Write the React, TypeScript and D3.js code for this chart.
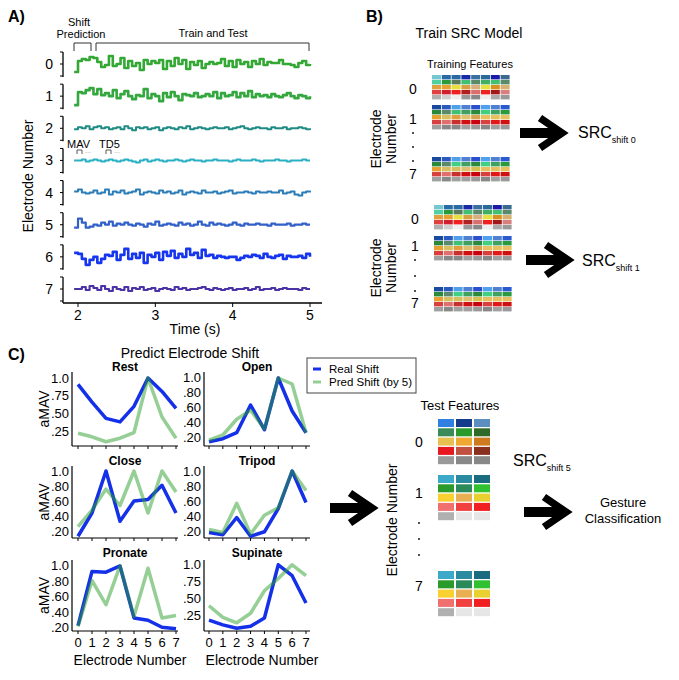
import React from "react";
import * as d3 from "d3";

const FONT = "'Liberation Sans', Arial, Helvetica, sans-serif";

// ---------- Panel A data ----------
const electrodes = [0, 1, 2, 3, 4, 5, 6, 7];
const timeTicks = [2, 3, 4, 5];
const tStart = 1.95;
const tStep = 0.05;
const emg0 = [-8, 3, 5, 4, 7, 6, 2, -3, -1, 8, -2, 0, 6, -4, 3, -2, 1, -6, 4, 0, 3, 1, 4, -5, 3, -2, 6, 0, 4, -5, 2, -1, 3, -4, 0, 2, 0, 1, 5, -2, 3, -3, 4, 0, 2, -3, 3, 0, 5, -1, 2, 1, 1, 4, 0, 0, -1, -3, 1, 3, -1, 0];
const emg1 = [-9, 4, 3, 6, 8, 2, 7, 1, 3, 0, 6, -2, 2, 5, 0, -3, 1, 0, 7, -2, 2, 0, -5, 3, -1, 4, 0, -4, 2, 1, 0, 3, -1, 0, 2, 0, 4, -2, 3, 0, 1, 4, -1, 3, 0, 5, -1, 2, 0, 1, -1, 2, 0, -1, 1, 3, 0, -2, 1, 0, -2, 0];
const emg2 = [-1, 1, 0, 2, -1, 1, 2, 0, 1, -1, 0, 1, -1, 2, 0, -2, 1, 0, 1, -1, 0, 1, -2, 0, 1, 0, -1, 1, 0, 2, -1, 0, 1, 0, -1, 0, 1, 0, 0, 1, -1, 0, 1, 2, 0, -1, 0, 1, 0, 0, -1, 1, 0, 0, 1, -1, 0, 0, 1, 0, -1, 0];
const emg3 = [0, 0, 1, -1, 0, 1, 0, -1, 0, 1, 0, -1, 0, 1, 0, -1, -2, 0, 1, -1, 0, 1, 0, -1, 0, 0, 1, 0, -1, 0, 1, 0, 0, -1, 0, 0, 1, 0, 0, 0, -1, 0, 1, 0, 0, 0, 1, 0, -1, 0, 0, 0, 1, 0, 0, -1, 0, 0, 0, 1, 0, 0];
const emg4 = [1, 3, 0, -1, 0, 2, -1, 0, 3, -2, 1, 0, 2, -1, 0, 1, 3, -2, 0, 1, 0, -1, 2, 0, 1, -1, 0, 2, -2, 0, 1, 0, -1, 2, 0, 0, 1, -1, 0, 1, 2, -1, 0, 0, 1, 0, -1, 1, 0, 0, 1, 0, 0, 2, -1, 0, 1, -2, -3, 0, 1, 0];
const emg5 = [-3, 6, 2, -3, -2, 0, -1, 2, 0, 3, -1, 1, 0, 2, 0, -1, 1, 0, -2, 1, 0, 3, -1, 0, 1, 0, -1, 2, 0, 1, -1, 0, 3, 0, -1, 2, 0, 1, 0, -1, 0, 2, 0, -1, 1, 0, 0, 1, 0, 0, -1, 1, 0, 0, 0, 1, -1, 0, 0, 1, 0, 0];
const emg6 = [4, 3, -2, -8, -3, 0, -6, -2, 2, 1, 5, -3, 2, 8, -2, 3, -1, 4, -6, 2, 0, 4, -3, 5, 1, 6, -1, 3, 0, 8, 2, 4, -1, 7, 1, 2, -1, 1, 0, -1, 0, 0, -3, -1, 1, 0, 2, 1, -1, 3, 0, -1, 1, 2, -2, 1, 0, 0, 1, -1, 3, 0];
const emg7 = [0, 0, 2, -1, 3, 1, -1, 3, 0, -2, 2, 0, -1, 2, -2, 1, 0, 2, -1, 0, 1, -2, 0, 1, 0, -1, 2, 0, 1, -1, 0, 0, 1, 2, 0, -1, 1, 0, -1, 0, 1, -1, 0, 0, 1, -1, 0, 2, -1, 0, 0, 1, -1, 0, 1, 0, 0, 0, -1, 1, 0, 0];
const emgSeries = [emg0, emg1, emg2, emg3, emg4, emg5, emg6, emg7];
const emgColors = ["#34a834", "#34a83e", "#1e8c84", "#2ab0c4", "#2a7db8", "#3060c8", "#1535ee", "#4b32a6"];
const emgWidths = [2.6, 2.6, 2, 2, 2, 2.2, 2.6, 2.2];

// ---------- Panel C data ----------
const electrodeTicks = [0, 1, 2, 3, 4, 5, 6, 7];
const realRest = [0.91, 0.66, 0.43, 0.38, 0.6, 1.0, 0.81, 0.57];
const predRest = [0.22, 0.17, 0.1, 0.15, 0.23, 1.0, 0.45, 0.15];
const realOpen = [0.15, 0.19, 0.27, 0.64, 0.31, 1.0, 0.56, 0.27];
const predOpen = [0.17, 0.24, 0.45, 0.57, 0.32, 1.0, 0.92, 0.27];
const realClose = [0.13, 0.44, 1.0, 0.33, 0.6, 0.62, 0.81, 0.44];
const predClose = [0.26, 0.48, 0.76, 0.54, 1.0, 0.44, 1.0, 0.72];
const realTripod = [0.18, 0.15, 0.38, 0.13, 0.19, 0.5, 1.0, 0.58];
const predTripod = [0.22, 0.18, 0.57, 0.16, 0.41, 0.51, 1.0, 0.74];
const realPronate = [0.23, 0.93, 0.92, 1.0, 0.33, 0.3, 0.21, 0.19];
const predPronate = [0.22, 0.81, 0.5, 1.0, 0.35, 0.97, 0.33, 0.36];
const realSupinate = [0.19, 0.12, 0.07, 0.1, 0.22, 1.0, 0.84, 0.44];
const predSupinate = [0.4, 0.23, 0.15, 0.29, 0.62, 0.8, 1.0, 0.84];
const ticksQuarter = [0.25, 0.5, 0.75, 1.0];
const labelsQuarter = [".25", ".50", ".75", "1.0"];
const ticksFifth = [0.2, 0.4, 0.6, 0.8, 1.0];
const labelsFifth = [".20", ".40", ".60", ".80", "1.0"];

// ---------- Feature colour blocks ----------
const trainBlock0 = [
  ["#74c8d0", "#2a6aa6", "#2a6aa0", "#1a2aa6", "#3a70a0", "#2a6a9a", "#1a1aa6", "#3a6a90"],
  ["#50d0a0", "#2a9a3a", "#5a7a5a", "#40c070", "#5a8a6a", "#40b060", "#40c070", "#5a8a6a"],
  ["#e0a040", "#e8a030", "#e8e040", "#d8a040", "#d8b080", "#e8e040", "#d89020", "#d8b070"],
  ["#e04040", "#d02030", "#f02020", "#b02020", "#d87070", "#f02020", "#a01818", "#d88080"],
  ["#b0b0b0", "#d0d0d0", "#eeeeee", "#999999", "#888888", "#eeeeee", "#aaaaaa", "#999999"],
];
const trainBlock1 = [
  ["#1a4aa0", "#2a5ac0", "#50a0e8", "#5080d0", "#2a50d0", "#50a0f0", "#5080d0", "#2a5ad0"],
  ["#2a8a3a", "#5a8a6a", "#40c070", "#40a060", "#2a8a3a", "#40d080", "#40a060", "#2a9a3a"],
  ["#e8a030", "#d8c060", "#e0a040", "#e0c070", "#d8a050", "#e8c060", "#e8c060", "#e8c060"],
  ["#d84040", "#e07070", "#c83030", "#d01010", "#c80010", "#d84040", "#e01818", "#d01010"],
  ["#a0a0a0", "#888888", "#888888", "#a0a0a0", "#999999", "#888888", "#a0a0a0", "#999999"],
];
const trainBlock7 = [
  ["#1a4aa0", "#2a5ac0", "#50a0e8", "#5080d0", "#2a50d0", "#50a0f0", "#5080d0", "#2a5ad0"],
  ["#2a8a3a", "#5a8a6a", "#40d080", "#40a060", "#2a8a3a", "#40d080", "#40a060", "#2a9a3a"],
  ["#e8a030", "#d8c060", "#d8c060", "#e0c070", "#d8c050", "#e8c060", "#e8c060", "#e8c060"],
  ["#d84040", "#e07070", "#c83030", "#d01010", "#c80010", "#d84040", "#e01818", "#d01010"],
  ["#a0a0a0", "#888888", "#a0a0a0", "#a0a0a0", "#999999", "#888888", "#a0a0a0", "#999999"],
];
const testBlock0 = [
  ["#2f80e0", "#143c8a", "#5a8fc0"],
  ["#3a8a5a", "#2a9a2a", "#2f6a2a"],
  ["#e8c050", "#f0a830", "#d07a20"],
  ["#e81820", "#c05040", "#8a3020"],
  ["#999999", "#888888", "#888888"],
];
const testBlock1 = [
  ["#3aaac8", "#2a8aa0", "#1a6a80"],
  ["#2a9a2a", "#2a8a5a", "#30c030"],
  ["#f8d030", "#e8b050", "#e8d030"],
  ["#f07070", "#f04040", "#f02020"],
  ["#b0b0b0", "#e6e6e6", "#e6e6e6"],
];

function Arrow({ x0, x1, y }: { x0: number; x1: number; y: number }) {
  const headL = 22;
  const headH = 15;
  return (
    <g>
      <rect x={x0} y={y - 5} width={x1 - x0 - 6} height={10} fill="#000" />
      <path
        d={`M${x1 - headL},${y - headH} L${x1},${y} L${x1 - headL},${y + headH}`}
        fill="none"
        stroke="#000"
        strokeWidth={7.5}
        strokeLinejoin="miter"
      />
    </g>
  );
}

function Block({ colors, x, y, cw, ch, gx, gy }: { colors: string[][]; x: number; y: number; cw: number; ch: number; gx: number; gy: number }) {
  return (
    <g>
      {colors.map((row, r) =>
        row.map((c, k) => (
          <rect key={`${r}-${k}`} x={x + k * (cw + gx)} y={y + r * (ch + gy)} width={cw} height={ch} fill={c} />
        ))
      )}
    </g>
  );
}

function TrainSet({ x, y0, y1, y7, lx, l0, l1, l7, dots, ex, ey }: any) {
  return (
    <g>
      <Block colors={trainBlock0} x={x} y={y0} cw={9} ch={4.4} gx={0.8} gy={0.6} />
      <Block colors={trainBlock1} x={x} y={y1} cw={9} ch={4.4} gx={0.8} gy={0.6} />
      <Block colors={trainBlock7} x={x} y={y7} cw={9} ch={4.4} gx={0.8} gy={0.6} />
      <text x={lx} y={l0} fontSize={14} textAnchor="middle">0</text>
      <text x={lx} y={l1} fontSize={14} textAnchor="middle">1</text>
      <text x={lx} y={l7} fontSize={14} textAnchor="middle">7</text>
      {dots.map((d: number, i: number) => (
        <circle key={i} cx={lx} cy={d} r={0.9} fill="#000" />
      ))}
      <text transform={`translate(${ex},${ey}) rotate(-90)`} fontSize={14} textAnchor="middle">Electrode</text>
      <text transform={`translate(${ex + 15},${ey}) rotate(-90)`} fontSize={14} textAnchor="middle">Number</text>
    </g>
  );
}

export default function App() {
  // ---------- Panel A scales ----------
  const xA = d3.scaleLinear().domain([2, 5]).range([78, 310]);
  const rowY = d3.scalePoint<number>().domain(electrodes).range([64, 289]);
  const dev = d3.scaleLinear().domain([-10, 10]).range([10, -10]);
  const makeEmgLine = (base: number) =>
    d3
      .line<number>()
      .x((_, i) => xA(tStart + i * tStep))
      .y((v) => base + dev(v))
      .curve(d3.curveStepAfter);

  // ---------- Panel C ----------
  const cols = [
    { axisX: 72, x0: 78, x1: 176, end: 178 },
    { axisX: 204, x0: 209, x1: 306, end: 310 },
  ];
  const rows = [
    { top: 372, bottom: 446, titleY: 371 },
    { top: 466, bottom: 538, titleY: 465 },
    { top: 560, bottom: 631, titleY: 557 },
  ];
  const plots = [
    { name: "Rest", real: realRest, pred: predRest, ticks: ticksQuarter, labels: labelsQuarter, c: 0, r: 0, dom: [0.04, 1.085] },
    { name: "Open", real: realOpen, pred: predOpen, ticks: ticksFifth, labels: labelsFifth, c: 1, r: 0, dom: [0.093, 1.08] },
    { name: "Close", real: realClose, pred: predClose, ticks: ticksFifth, labels: labelsFifth, c: 0, r: 1, dom: [0.107, 1.067] },
    { name: "Tripod", real: realTripod, pred: predTripod, ticks: ticksFifth, labels: labelsFifth, c: 1, r: 1, dom: [0.107, 1.067] },
    { name: "Pronate", real: realPronate, pred: predPronate, ticks: ticksFifth, labels: labelsFifth, c: 0, r: 2, dom: [0.161, 1.077] },
    { name: "Supinate", real: realSupinate, pred: predSupinate, ticks: ticksQuarter, labels: labelsQuarter, c: 1, r: 2, dom: [0.03, 1.07] },
  ];
  const blue = "#1430e8";
  const green = "#2ca02c";

  return (
    <svg
      width={679}
      height={680}
      viewBox="0 0 679 680"
      style={{ position: "absolute", left: 0, top: 0, background: "#fff" }}
      fontFamily={FONT}
    >
      <rect x={0} y={0} width={679} height={680} fill="#fff" />

      {/* ================= Panel A ================= */}
      <text x={8} y={22} fontSize={16} fontWeight="bold">A)</text>
      <text x={79} y={26} fontSize={11} textAnchor="middle">Shift</text>
      <text x={81} y={38} fontSize={11} textAnchor="middle">Prediction</text>
      <text x={213} y={37} fontSize={11} textAnchor="middle">Train and Test</text>
      <path d="M74,51 V43 H91 V51" fill="none" stroke="#333" strokeWidth={1} />
      <path d="M96,51 V43 H309 V51" fill="none" stroke="#333" strokeWidth={1} />

      {electrodes.map((e) => {
        const c = rowY(e)!;
        return (
          <g key={e}>
            <line x1={63} x2={63} y1={c - 12} y2={e === 7 ? 303 : c + 13} stroke="#000" strokeWidth={1.3} />
            {[-12, 0, 12].map((d) => (
              <line key={d} x1={60} x2={63} y1={c + d} y2={c + d} stroke="#000" strokeWidth={1} />
            ))}
            <text x={53} y={c + 5} fontSize={14} textAnchor="end">{e}</text>
            <path
              d={makeEmgLine(c)(emgSeries[e]) || ""}
              fill="none"
              stroke={emgColors[e]}
              strokeWidth={emgWidths[e]}
              strokeLinejoin="round"
            />
          </g>
        );
      })}
      <text x={67} y={148} fontSize={11}>MAV</text>
      <text x={99} y={148} fontSize={11}>TD5</text>
      <path d="M77,154 V150 H82 V154" fill="none" stroke="#333" strokeWidth={0.8} />
      <text x={85} y={154} fontSize={6} fill="#555">···</text>
      <path d="M106,154 V150 H111 V154" fill="none" stroke="#333" strokeWidth={0.8} />
      <text x={114} y={154} fontSize={6} fill="#555">···</text>

      <line x1={63} x2={322} y1={303} y2={303} stroke="#000" strokeWidth={1.3} />
      {timeTicks.map((t) => (
        <g key={t}>
          <line x1={xA(t)} x2={xA(t)} y1={303} y2={307} stroke="#000" />
          <text x={xA(t)} y={320} fontSize={14} textAnchor="middle">{t}</text>
        </g>
      ))}
      <text x={195} y={334} fontSize={14} textAnchor="middle">Time (s)</text>
      <text transform="translate(33,176) rotate(-90)" fontSize={14} textAnchor="middle">Electrode Number</text>

      {/* ================= Panel B ================= */}
      <text x={366} y={22} fontSize={16} fontWeight="bold">B)</text>
      <text x={469} y={38} fontSize={14} textAnchor="middle">Train SRC Model</text>
      <text x={470} y={68} fontSize={11} textAnchor="middle">Training Features</text>
      <TrainSet x={432} y0={75} y1={105} y7={157} lx={413} l0={94} l1={124} l7={179} dots={[133, 147, 161]} ex={381} ey={139} />
      <Arrow x0={520} x1={562} y={133} />
      <text x={578} y={138} fontSize={16}>SRC<tspan fontSize={9} dy={5}>shift 0</tspan></text>

      <TrainSet x={434} y0={205} y1={236} y7={287} lx={415} l0={224} l1={251} l7={308} dots={[260, 276, 291]} ex={381} ey={268} />
      <Arrow x0={526} x1={568} y={260} />
      <text x={582} y={266} fontSize={16}>SRC<tspan fontSize={9} dy={5}>shift 1</tspan></text>

      {/* ================= Panel C ================= */}
      <text x={8} y={360} fontSize={16} fontWeight="bold">C)</text>
      <text x={190} y={358} fontSize={14} textAnchor="middle">Predict Electrode Shift</text>

      {plots.map((p) => {
        const col = cols[p.c];
        const row = rows[p.r];
        const x = d3.scalePoint<number>().domain(electrodeTicks).range([col.x0, col.x1]);
        const y = d3.scaleLinear().domain(p.dom).range([row.bottom, row.top]);
        const line = d3
          .line<number>()
          .x((_, i) => x(electrodeTicks[i])!)
          .y((v) => y(v));
        return (
          <g key={p.name}>
            <text x={(col.axisX + col.end) / 2} y={row.titleY} fontSize={12} fontWeight="bold" textAnchor="middle">
              {p.name}
            </text>
            <line x1={col.axisX} x2={col.axisX} y1={row.top} y2={row.bottom} stroke="#000" strokeWidth={1.2} />
            <line x1={col.axisX} x2={col.end} y1={row.bottom} y2={row.bottom} stroke="#000" strokeWidth={1.2} />
            {electrodeTicks.map((t) => (
              <line key={t} x1={x(t)} x2={x(t)} y1={row.bottom} y2={row.bottom + 3} stroke="#000" />
            ))}
            {p.ticks.map((t, i) => (
              <text key={t} x={col.axisX - 3} y={y(t) + 4.5} fontSize={13} textAnchor="end">
                {p.labels[i]}
              </text>
            ))}
            <path d={line(p.real) || ""} fill="none" stroke={blue} strokeWidth={3.5} strokeLinejoin="round" />
            <path d={line(p.pred) || ""} fill="none" stroke={green} strokeOpacity={0.5} strokeWidth={3.5} strokeLinejoin="round" />
            {p.r === 2 &&
              electrodeTicks.map((t) => (
                <text key={t} x={x(t)} y={647} fontSize={13} textAnchor="middle">{t}</text>
              ))}
          </g>
        );
      })}
      {rows.map((r, i) => (
        <text key={i} transform={`translate(49,${(r.top + r.bottom) / 2}) rotate(-90)`} fontSize={14} textAnchor="middle">aMAV</text>
      ))}
      <text x={130} y={665} fontSize={14} textAnchor="middle">Electrode Number</text>
      <text x={262} y={665} fontSize={14} textAnchor="middle">Electrode Number</text>

      {/* legend */}
      <rect x={307} y={358} width={109} height={35} fill="#fff" stroke="#444" strokeWidth={1} />
      <line x1={313} x2={321} y1={369} y2={369} stroke={blue} strokeWidth={3} />
      <line x1={313} x2={321} y1={382} y2={382} stroke={green} strokeOpacity={0.5} strokeWidth={3} />
      <text x={329} y={373} fontSize={11.5}>Real Shift</text>
      <text x={329} y={386} fontSize={11.5}>Pred Shift (by 5)</text>

      <Arrow x0={330} x1={372} y={508} />

      {/* Test features */}
      <text x={460} y={410} fontSize={13} textAnchor="middle">Test Features</text>
      <Block colors={testBlock0} x={438} y={419} cw={16} ch={8} gx={2} gy={1.3} />
      <Block colors={testBlock1} x={438} y={475} cw={16} ch={8} gx={2} gy={1.3} />
      <Block colors={testBlock1} x={438} y={571} cw={16} ch={8} gx={2} gy={1.3} />
      <text x={419} y={447} fontSize={14} textAnchor="middle">0</text>
      <text x={419} y={498} fontSize={14} textAnchor="middle">1</text>
      <text x={419} y={591} fontSize={14} textAnchor="middle">7</text>
      {[523, 539, 555].map((d) => (
        <circle key={d} cx={419} cy={d} r={0.9} fill="#000" />
      ))}
      <text transform="translate(397,520) rotate(-90)" fontSize={14} textAnchor="middle">Electrode Number</text>
      <text x={513} y={466} fontSize={16}>SRC<tspan fontSize={9} dy={5}>shift 5</tspan></text>
      <Arrow x0={524} x1={566} y={512} />
      <text x={623} y={507} fontSize={13} textAnchor="middle">Gesture</text>
      <text x={623} y={523} fontSize={13} textAnchor="middle">Classification</text>
    </svg>
  );
}
